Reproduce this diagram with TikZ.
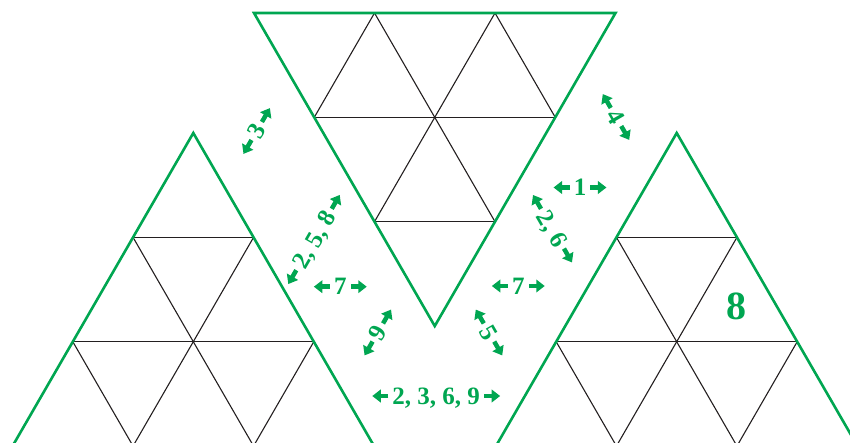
\documentclass[tikz,border=0pt]{standalone}
\usepackage{fontspec}
\setmainfont{Liberation Serif}
\usetikzlibrary{arrows.meta,calc}
\definecolor{gr}{RGB}{0,166,81}
\definecolor{ink}{RGB}{35,31,32}
\tikzset{
  outline/.style={draw=gr, line width=2.6pt, line join=miter},
  gridline/.style={draw=ink, line width=1.1pt},
  glabel/.style={text=gr, font=\bfseries\fontsize{25}{25}\selectfont, inner sep=0pt, text depth=0pt},
  bignum/.style={text=gr, font=\bfseries\fontsize{40}{40}\selectfont, inner sep=0pt},
  garr/.style={draw=gr, line width=4.5pt, -{Triangle[length=8.5pt,width=12.5pt]}},
}
\newcommand\glab[4]{%
  \node[glabel, rotate=#3] (#1) at (#2) {#4};
  \draw[garr] ($(#1.west)!4pt!180:(#1.east)$) -- ($(#1.west)!20pt!180:(#1.east)$);
  \draw[garr] ($(#1.east)!4pt!180:(#1.west)$) -- ($(#1.east)!20pt!180:(#1.west)$);
}
\begin{document}
\begin{tikzpicture}[x=1pt,y=-1pt]
\useasboundingbox (0,0) rectangle (850,443);
\begin{scope}
\clip (0,0) rectangle (850,443);
% top triangle grid
\draw[gridline] (314.25,117.35) -- (555.25,117.35);
\draw[gridline] (374.5,221.7) -- (495,221.7);
\draw[gridline] (374.5,13) -- (495,221.7);
\draw[gridline] (495,13) -- (555.25,117.35);
\draw[gridline] (495,13) -- (374.5,221.7);
\draw[gridline] (374.5,13) -- (314.25,117.35);
% left triangle grid
\draw[gridline] (133.05,237.35) -- (253.55,237.35);
\draw[gridline] (72.8,341.7) -- (313.8,341.7);
\draw[gridline] (133.05,446.05) -- (253.55,237.35);
\draw[gridline] (253.55,446.05) -- (313.8,341.7);
\draw[gridline] (253.55,446.05) -- (133.05,237.35);
\draw[gridline] (133.05,446.05) -- (72.8,341.7);
% right triangle grid
\draw[gridline] (616.45,237.35) -- (736.95,237.35);
\draw[gridline] (556.2,341.7) -- (797.2,341.7);
\draw[gridline] (616.45,446.05) -- (736.95,237.35);
\draw[gridline] (736.95,446.05) -- (797.2,341.7);
\draw[gridline] (736.95,446.05) -- (616.45,237.35);
\draw[gridline] (616.45,446.05) -- (556.2,341.7);
% outlines
\draw[outline] (254,13) -- (615.5,13) -- (434.75,326.05) -- cycle;
\draw[outline] (12.55,446.05) -- (193.3,133) -- (374.05,446.05);
\draw[outline] (495.95,446.05) -- (676.7,133) -- (857.45,446.05);
\end{scope}
% labels with double arrows
\glab{l3}{256.7,131}{60}{3}
\glab{l4}{616,117}{-60}{4}
\glab{l1}{580,187.5}{0}{1}
\glab{l26}{552.5,228.7}{-60}{2, 6}
\glab{l258}{314,239.5}{60}{2, 5, 8}
\glab{l7a}{340.3,286.7}{0}{7}
\glab{l9}{377.8,332.5}{60}{9}
\glab{l7b}{518.3,286}{0}{7}
\glab{l5}{489,332.5}{-60}{5}
\glab{l2369}{436.2,396}{0}{2, 3, 6, 9}
\node[bignum] (eight) at (736,306) {8};
\end{tikzpicture}
\end{document}
